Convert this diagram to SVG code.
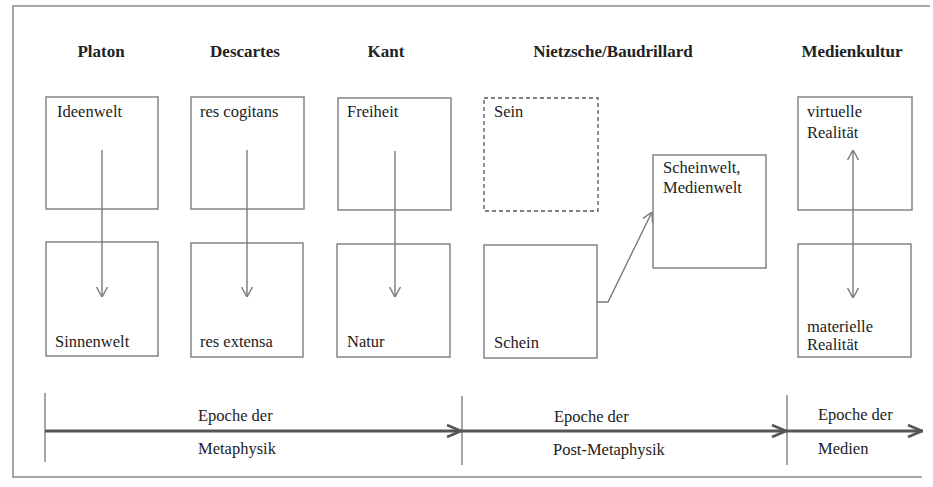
<svg xmlns="http://www.w3.org/2000/svg" width="933" height="487" viewBox="0 0 933 487">
<style>
.frame{fill:none;stroke:#8a8a8a;stroke-width:1.5}
.box{fill:#fff;stroke:#858585;stroke-width:1.5}
.dash{fill:#fff;stroke:#555;stroke-width:1.3;stroke-dasharray:4 3}
.t{font-family:"Liberation Serif","Times New Roman",serif;font-size:16.5px;fill:#222}
.h{font-family:"Liberation Serif","Times New Roman",serif;font-size:17px;font-weight:bold;fill:#222;text-anchor:middle}
.con{fill:none;stroke:#7a7a7a;stroke-width:1.4}
.time{fill:none;stroke:#555;stroke-width:3}
.tick{fill:none;stroke:#777;stroke-width:1.3}
</style>
<defs>
<marker id="ah" viewBox="0 0 10 12" refX="10" refY="6" markerWidth="10" markerHeight="12" markerUnits="userSpaceOnUse" orient="auto-start-reverse">
<path d="M0,0.5 L10,6 L0,11.5" fill="none" stroke="#7a7a7a" stroke-width="1.4"/>
</marker>
<marker id="big" viewBox="0 0 16 14" refX="16" refY="7" markerWidth="16" markerHeight="14" markerUnits="userSpaceOnUse" orient="auto">
<path d="M1,1 L15,7 L1,13" fill="none" stroke="#555" stroke-width="2.6"/>
</marker>
</defs>
<rect width="933" height="487" fill="#fff"/>
<path class="frame" d="M930,6 L13,6 L13,477 L922,477"/>

<g id="headers">
<text class="h" x="101" y="57">Platon</text>
<text class="h" x="245" y="57">Descartes</text>
<text class="h" x="386" y="57">Kant</text>
<text class="h" x="613" y="57">Nietzsche/Baudrillard</text>
<text class="h" x="852" y="57">Medienkultur</text>
</g>

<g id="ideenwelt"><rect class="box" x="46" y="97" width="112" height="112"/><text class="t" x="57" y="117">Ideenwelt</text></g>
<g id="res-cogitans"><rect class="box" x="191" y="97" width="113" height="112"/><text class="t" x="200" y="117">res cogitans</text></g>
<g id="freiheit"><rect class="box" x="338" y="98" width="113" height="112"/><text class="t" x="347" y="117">Freiheit</text></g>
<g id="sein"><rect class="dash" x="484" y="98" width="114" height="113"/><text class="t" x="494" y="117">Sein</text></g>
<g id="scheinwelt"><rect class="box" x="653" y="155" width="113" height="113"/><text class="t" x="663" y="173">Scheinwelt,</text><text class="t" x="663" y="193">Medienwelt</text></g>
<g id="virtuelle"><rect class="box" x="798" y="97" width="114" height="113"/><text class="t" x="807" y="117">virtuelle</text><text class="t" x="807" y="138">Realität</text></g>

<g id="sinnenwelt"><rect class="box" x="46" y="242" width="112" height="114"/><text class="t" x="55" y="347">Sinnenwelt</text></g>
<g id="res-extensa"><rect class="box" x="191" y="243" width="112" height="114"/><text class="t" x="200" y="347">res extensa</text></g>
<g id="natur"><rect class="box" x="337" y="244" width="113" height="113"/><text class="t" x="347" y="347">Natur</text></g>
<g id="schein"><rect class="box" x="484" y="245" width="113" height="113"/><text class="t" x="494" y="348">Schein</text></g>
<g id="materielle"><rect class="box" x="798" y="244" width="113" height="113"/><text class="t" x="807" y="332">materielle</text><text class="t" x="807" y="350">Realität</text></g>

<g id="connectors">
<line class="con" x1="102" y1="150" x2="102" y2="297" marker-end="url(#ah)"/>
<line class="con" x1="247" y1="150" x2="247" y2="297" marker-end="url(#ah)"/>
<line class="con" x1="395" y1="151" x2="395" y2="297" marker-end="url(#ah)"/>
<path class="con" d="M597,302 L608,302 L652,212" marker-end="url(#ah)"/>
<line class="con" x1="853" y1="150" x2="853" y2="298" marker-start="url(#ah)" marker-end="url(#ah)"/>
</g>

<g id="timeline">
<line class="tick" x1="45" y1="393" x2="45" y2="462"/>
<line class="tick" x1="462" y1="396" x2="462" y2="465"/>
<line class="tick" x1="787" y1="395" x2="787" y2="465"/>
<line class="time" x1="45" y1="431" x2="462" y2="431" marker-end="url(#big)"/>
<line class="time" x1="462" y1="431" x2="787" y2="431" marker-end="url(#big)"/>
<line class="time" x1="787" y1="431" x2="923" y2="431" marker-end="url(#big)"/>
<text class="t" x="198" y="421">Epoche der</text>
<text class="t" x="198" y="454">Metaphysik</text>
<text class="t" x="554" y="422">Epoche der</text>
<text class="t" x="553" y="455">Post-Metaphysik</text>
<text class="t" x="818" y="420">Epoche der</text>
<text class="t" x="818" y="454">Medien</text>
</g>
</svg>
